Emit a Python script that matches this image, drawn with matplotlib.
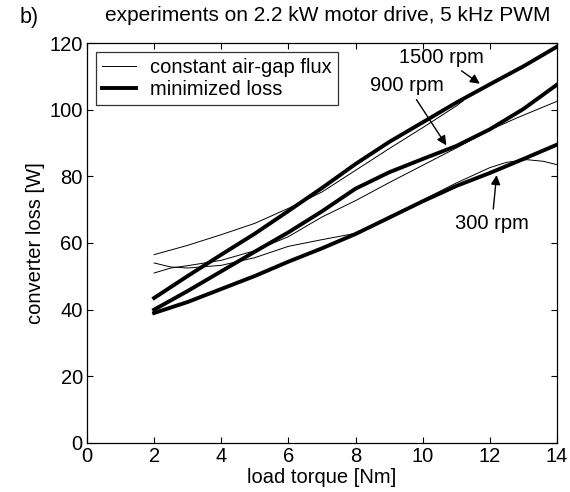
import matplotlib
matplotlib.use('Agg')
import matplotlib.pyplot as plt

plt.rcParams['font.family'] = ['Liberation Sans', 'DejaVu Sans']

# load torque [Nm]
torque = [2, 3, 4, 5, 6, 7, 8, 9, 10, 11, 12, 13, 14]

# minimized loss (thick lines), converter loss [W]
loss_min_1500 = [43.5, 50.1, 56.5, 62.8, 69.6, 76.5, 83.7, 90.3, 96.2, 102.1, 107.6, 113, 118.9]
loss_min_900 = [40, 45.6, 51.5, 57.4, 63.2, 69.5, 76.3, 81.2, 85.2, 89.1, 94.1, 100.2, 107.5]
loss_min_300 = [39, 42.3, 46.2, 50.1, 54.4, 58.4, 62.7, 67.6, 72.5, 77.1, 81, 85.2, 89.5]

# constant air-gap flux (thin lines)
torque_const_1500 = [2, 3, 4, 5, 6, 7, 8, 9, 10, 11, 11.2]
loss_const_1500 = [56.5, 59.3, 62.5, 65.9, 70.4, 75.3, 81.8, 88.3, 94.6, 101.1, 102.6]
torque_const_900 = [2, 2.5, 3, 4, 5, 6, 7, 8, 9, 10, 11, 12, 12.8, 13.4, 14]
loss_const_900 = [51, 52.5, 53.2, 54.8, 57.7, 61.9, 67.8, 72.7, 78.1, 83.3, 88.5, 93.9, 97.5, 100, 102.5]
torque_const_300 = [2, 2.5, 3, 4, 5, 6, 7, 8, 9, 10, 11, 12, 12.5, 13.1, 13.6, 14]
loss_const_300 = [54, 52.8, 52.5, 53.3, 55.6, 59, 61, 62.9, 67.5, 72.9, 78, 82.6, 84.2, 85, 84.5, 83.5]

fig = plt.figure(figsize=(5.7, 4.92), dpi=100)
ax = fig.add_axes([0.1526, 0.0996, 0.8245, 0.813])

thin = 0.7
thick = 2.8
ax.plot(torque_const_1500, loss_const_1500, color='k', lw=thin, label='constant air-gap flux')
ax.plot(torque, loss_min_1500, color='k', lw=thick, label='minimized loss')
ax.plot(torque_const_900, loss_const_900, color='k', lw=thin)
ax.plot(torque_const_300, loss_const_300, color='k', lw=thin)
ax.plot(torque, loss_min_900, color='k', lw=thick)
ax.plot(torque, loss_min_300, color='k', lw=thick)

fs = 14.5
ax.set_xlim(0, 14)
ax.set_ylim(0, 120)
ax.set_xticks(range(0, 15, 2))
ax.set_yticks(range(0, 121, 20))
ax.tick_params(direction='in', length=4, top=True, right=True, labelsize=fs, pad=3)
for s in ax.spines.values():
    s.set_linewidth(0.9)

ax.set_xlabel('load torque [Nm]', fontsize=fs, labelpad=1)
ax.set_ylabel('converter loss [W]', fontsize=fs, labelpad=3)

leg = ax.legend(loc='upper left', fontsize=fs, frameon=True, fancybox=False,
                edgecolor='k', handlelength=1.7, handletextpad=0.7,
                borderaxespad=0.45, labelspacing=0.15, borderpad=0.3)
leg.get_frame().set_linewidth(0.9)

arrow = dict(arrowstyle='-|>', color='k', lw=1.0, mutation_scale=14)
ax.annotate('1500 rpm', xy=(11.77, 107.3), xytext=(10.57, 115.8),
            ha='center', va='center', fontsize=fs, arrowprops=arrow)
ax.annotate('900 rpm', xy=(10.75, 88.6), xytext=(9.53, 107.4),
            ha='center', va='center', fontsize=fs, arrowprops=arrow)
ax.annotate('300 rpm', xy=(12.21, 81.2), xytext=(12.06, 65.7),
            ha='center', va='center', fontsize=fs, arrowprops=arrow)

fig.text(0.575, 0.968, 'experiments on 2.2 kW motor drive, 5 kHz PWM',
         ha='center', va='center', fontsize=15)
fig.text(0.035, 0.964, 'b)', ha='left', va='center', fontsize=15.5)

fig.savefig('out.png', dpi=100)
